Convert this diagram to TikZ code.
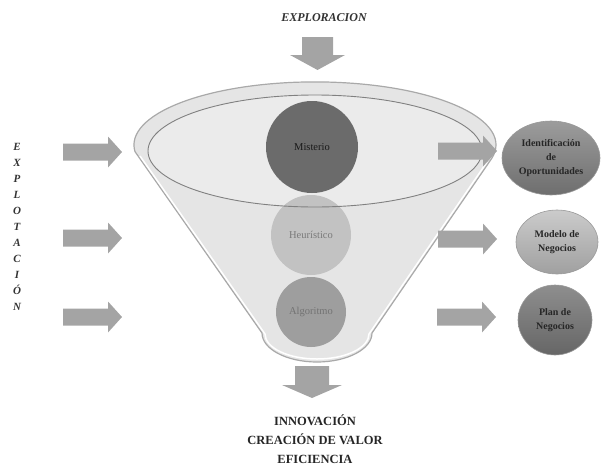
\documentclass[tikz,border=0pt]{standalone}
\usepackage{fontspec}
\setmainfont{Liberation Serif}
\usetikzlibrary{shapes.geometric}
\definecolor{arrowgray}{HTML}{A4A4A4}
\definecolor{funnelfill}{HTML}{E5E5E5}
\definecolor{funneledge}{HTML}{A9A9A9}
\definecolor{rimfill}{HTML}{EBEBEB}
\definecolor{rimedge}{HTML}{808080}
\definecolor{identtop}{HTML}{9C9C9C}
\definecolor{identbot}{HTML}{6E6E6E}
\definecolor{modeltop}{HTML}{CBCBCB}
\definecolor{modelbot}{HTML}{A0A0A0}
\definecolor{plantop}{HTML}{8E8E8E}
\definecolor{planbot}{HTML}{666666}
\newcommand{\myrarrow}[2]{%
  \fill[arrowgray] (#1,#2-8.5) -- ++(45,0) -- ++(0,-7) -- ++(14,15.5)
    -- ++(-14,15.5) -- ++(0,-7) -- ++(-45,0) -- cycle;}
\newcommand{\mydarrow}[6]{% cx, top, body half, head half, body len, head len
  \fill[arrowgray] (#1-#3,#2) -- (#1+#3,#2) -- (#1+#3,#2+#5) -- (#1+#4,#2+#5)
    -- (#1,#2+#5+#6) -- (#1-#4,#2+#5) -- (#1-#3,#2+#5) -- cycle;}
\begin{document}
\begin{tikzpicture}[x=1pt,y=-1pt,
  inball/.style={circle, inner sep=0pt, font=\fontsize{10.5}{12}\selectfont},
  outball/.style={ellipse, inner sep=0pt, draw=black!40, line width=0.6pt,
    font=\fontsize{10}{14}\selectfont\bfseries, text=black!85, align=center},
  headtext/.style={font=\fontsize{12}{13}\selectfont\bfseries\itshape, text=black!80},
  bottomtext/.style={font=\fontsize{12.5}{19}\selectfont\bfseries, text=black!85, align=center}]
\useasboundingbox (0,0) rectangle (615,466);

% funnel body
\path[fill=funnelfill, draw=funneledge, line width=1.2pt]
  (135,151.6) -- (262,333) arc[start angle=180, end angle=0, x radius=55, y radius=29]
  -- (492,158) arc[start angle=12, end angle=-186, x radius=181, y radius=63] -- cycle;
\path[draw=white, line width=1.5pt]
  (140,156) -- (265,334) arc[start angle=180, end angle=0, x radius=52, y radius=25]
  -- (487,162);
% inner rim fill
\fill[rimfill] (315,151) ellipse[x radius=167, y radius=56];

% inner balls
\node[inball, minimum size=92pt, fill=black!58, text=black!90] (mist) at (312,147) {Misterio};
\node[inball, minimum size=80pt, fill=black!24, text=black!52] (heur) at (311,235) {Heurístico};
\node[inball, minimum size=70pt, fill=black!38, text=black!55] (algo) at (311,312) {Algoritmo};

% rim outline over the balls
\draw[rimedge, line width=0.9pt] (315,151) ellipse[x radius=167, y radius=56];

% top text and arrow
\node[headtext] (explor) at (324,18) {EXPLORACION};
\mydarrow{317.5}{37}{15.5}{27.5}{18}{15}

% left vertical text
\node[font=\fontsize{11}{16}\selectfont\bfseries\itshape, text=black!80, align=center] (explot) at (17,227)
  {E\\X\\P\\L\\O\\T\\A\\C\\I\\Ó\\N};

% left arrows
\myrarrow{63}{152}
\myrarrow{63}{238}
\myrarrow{63}{317}

% right arrows
\myrarrow{438}{151}
\myrarrow{438}{239}
\myrarrow{437}{317}

% right balls
\node[outball, top color=identtop, bottom color=identbot, minimum width=98pt, minimum height=74pt] (ident) at (551,158)
  {Identificación\\de\\Oportunidades};
\node[outball, top color=modeltop, bottom color=modelbot, minimum width=82pt, minimum height=64pt] (model) at (557,242)
  {Modelo de\\Negocios};
\node[outball, top color=plantop, bottom color=planbot, minimum width=74pt, minimum height=70pt] (plan) at (555,320)
  {Plan de\\Negocios};

% bottom arrow and text
\mydarrow{312}{366}{17}{30}{19}{13}
\node[bottomtext] (result) at (315,439) {INNOVACIÓN\\CREACIÓN DE VALOR\\EFICIENCIA};
\end{tikzpicture}
\end{document}
